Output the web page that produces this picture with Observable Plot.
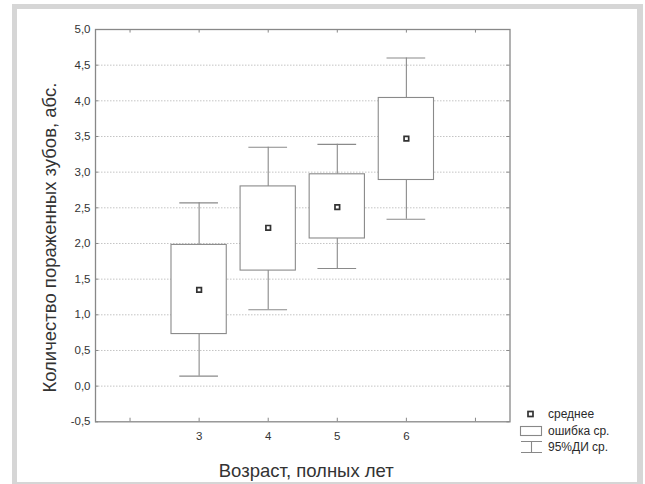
<!DOCTYPE html>
<html>
<head>
<meta charset="utf-8">
<script src="https://cdn.jsdelivr.net/npm/d3@7"></script>
<script src="https://cdn.jsdelivr.net/npm/@observablehq/plot@0.6"></script>
<style>
  html, body { margin: 0; padding: 0; background: #fff; overflow: hidden; }
  #wrap { position: relative; width: 645px; height: 484px; overflow: hidden; font-family: "Liberation Sans", Arial, sans-serif; }
  .band { position: absolute; background: #d6d6d6; z-index: 5; }
  #chart { position: absolute; left: 0; top: 0; z-index: 1; }
  #legend { position: absolute; left: 518px; top: 406px; font-size: 12px; color: #2a2a2a; line-height: 16.5px; z-index: 2; }
  #legend .row { display: flex; align-items: center; height: 16.5px; }
  #legend svg { width: 26px; height: 16px; margin-right: 4px; overflow: visible; }
</style>
</head>
<body>
<div id="wrap">
  <div id="chart"></div>
  <div id="legend">
    <div class="row"><svg><rect x="10" y="5.5" width="5" height="5" fill="#fff" stroke="#333" stroke-width="1.7"/></svg><span>среднее</span></div>
    <div class="row"><svg><rect x="2.5" y="3.5" width="21" height="9" fill="#fff" stroke="#888" stroke-width="1.1"/></svg><span>ошибка ср.</span></div>
    <div class="row"><svg><path d="M3,2.5H24M13.5,2.5V13.5M3,13.5H24" fill="none" stroke="#888" stroke-width="1.1"/></svg><span>95%ДИ ср.</span></div>
  </div>
  <div class="band" style="left:12px;top:4px;width:631px;height:5px"></div>
  <div class="band" style="left:12px;top:4px;width:5px;height:480px"></div>
  <div class="band" style="left:637px;top:4px;width:6px;height:480px"></div>
  <div class="band" style="left:12px;top:482px;width:631px;height:2px"></div>
</div>
<script>
// Data
const ages   = [3, 4, 5, 6];
const means  = [1.35, 2.22, 2.51, 3.47];
const seLow  = [0.73, 1.62, 2.07, 2.89];
const seHigh = [1.98, 2.80, 2.97, 4.04];
const ciLow  = [0.14, 1.07, 1.65, 2.34];
const ciHigh = [2.57, 3.35, 3.39, 4.60];

const yTickValues = [-0.5, 0, 0.5, 1, 1.5, 2, 2.5, 3, 3.5, 4, 4.5, 5];
const xTickLabels = [3, 4, 5, 6];
const xTickMarks = [2, 3, 4, 5, 6, 7];

const rows = ages.map((a, i) => ({age: a, mean: means[i], seLow: seLow[i], seHigh: seHigh[i], ciLow: ciLow[i], ciHigh: ciHigh[i]}));

const boxHalf = 0.4, capHalf = 0.28;
const lineColor = "#8a8a8a";
const fmt = d => d.toFixed(1).replace(".", ",");

const chart = Plot.plot({
  width: 645,
  height: 484,
  marginLeft: 95,
  marginRight: 135.5,
  marginTop: 29,
  marginBottom: 62.7,
  style: {background: "transparent", fontFamily: "'Liberation Sans', Arial, sans-serif", color: "#333", overflow: "visible"},
  x: {domain: [1.5, 7.5]},
  y: {domain: [-0.5, 5]},
  marks: [
    Plot.gridY(yTickValues.filter(v => v > -0.5 && v < 5), {stroke: "#c4c4c4", strokeOpacity: 1, strokeDasharray: "1.5,1.5", strokeWidth: 1}),
    // inward ticks on frame
    Plot.ruleY(yTickValues, {x1: 1.5, x2: 1.545, stroke: "#888"}),
    Plot.ruleY(yTickValues, {x1: 7.455, x2: 7.5, stroke: "#888"}),
    Plot.ruleX(xTickMarks, {y1: -0.5, y2: -0.45, stroke: "#888"}),
    Plot.ruleX(xTickMarks, {y1: 4.95, y2: 5, stroke: "#888"}),
    // whiskers (95% CI)
    Plot.ruleX(rows, {x: "age", y1: "ciLow", y2: "seLow", stroke: lineColor, strokeWidth: 1.1}),
    Plot.ruleX(rows, {x: "age", y1: "seHigh", y2: "ciHigh", stroke: lineColor, strokeWidth: 1.1}),
    Plot.ruleY(rows, {y: "ciHigh", x1: d => d.age - capHalf, x2: d => d.age + capHalf, stroke: lineColor, strokeWidth: 1.1}),
    Plot.ruleY(rows, {y: "ciLow", x1: d => d.age - capHalf, x2: d => d.age + capHalf, stroke: lineColor, strokeWidth: 1.1}),
    // boxes (standard error)
    Plot.rect(rows, {x1: d => d.age - boxHalf, x2: d => d.age + boxHalf, y1: "seLow", y2: "seHigh", fill: "white", stroke: lineColor, strokeWidth: 1.1}),
    // means
    Plot.dot(rows, {x: "age", y: "mean", symbol: "square", r: 2.6, fill: "white", stroke: "#333", strokeWidth: 1.7}),
    Plot.frame({stroke: "#888", strokeWidth: 1.3}),
    Plot.axisY(yTickValues, {tickSize: 0, tickPadding: 5, tickFormat: fmt, fontSize: 11.5, label: null, color: "#333"}),
    Plot.axisX(xTickLabels, {tickSize: 0, tickPadding: 10, tickFormat: d => String(d), fontSize: 11.5, label: null, color: "#333"}),
    Plot.text(["Возраст, полных лет"], {frameAnchor: "bottom", dx: 3.5, dy: 49, fontSize: 18.5, fill: "#333", lineAnchor: "middle", textAnchor: "middle"}),
    Plot.text(["Количество пораженных зубов, абс."], {frameAnchor: "left", dx: -45, dy: 12, rotate: -90, fontSize: 18.5, fill: "#333", lineAnchor: "middle", textAnchor: "middle"})
  ]
});
document.getElementById("chart").appendChild(chart);
</script>
</body>
</html>
